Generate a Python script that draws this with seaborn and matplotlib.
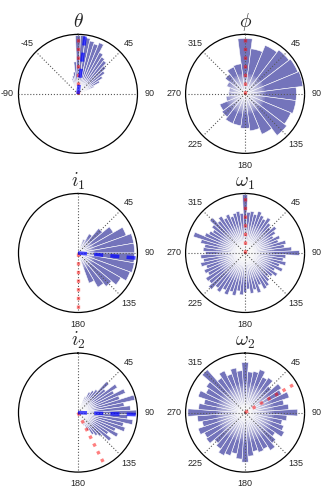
import numpy as np
import matplotlib
matplotlib.use("Agg")
import matplotlib.pyplot as plt
import seaborn as sns

sns.set_theme(style="white")
plt.rcParams['font.family'] = ['Liberation Sans', 'DejaVu Sans']
plt.rcParams['mathtext.fontset'] = 'cm'

# ---- data (angles in degrees, bar lengths relative) ----
theta_ang = [-20, -15, -10, -5, 0, 5, 10, 15, 20, 25, 30, 35, 40, 45, 50, 55, 60, 65]
theta_val = [0.28, 0.32, 0.38, 0.55, 1.0, 1.0, 0.97, 0.93, 0.9, 0.95, 0.8, 0.75,
             0.72, 0.65, 0.58, 0.5, 0.42, 0.3]

phi_ang = list(range(0, 360, 15))
phi_val = [0.95, 0.78, 0.9, 0.95, 0.98, 1.0, 0.88, 0.88, 0.85, 0.9, 0.75, 0.64,
           0.59, 0.55, 0.55, 0.5, 0.47, 0.33, 0.28, 0.28, 0.34, 0.43, 0.5, 0.52]

i1_ang = list(range(25, 160, 10))
i1_val = [0.25, 0.38, 0.55, 0.7, 0.88, 0.97, 0.97, 0.97, 0.98, 0.95, 0.85, 0.75,
          0.68, 0.55]

w1_ang = list(range(0, 360, 5))
w1_val = [1.0, 0.7, 0.72, 0.68, 0.75, 0.7, 0.66, 0.72, 0.65, 0.6, 0.68, 0.62,
          0.55, 0.65, 0.6, 0.72, 0.68, 0.8, 0.93, 0.7, 0.66, 0.72, 0.62, 0.7,
          0.58, 0.66, 0.6, 0.55, 0.62, 0.68, 0.7, 0.6, 0.72, 0.65, 0.7, 0.62,
          0.68, 0.72, 0.66, 0.75, 0.7, 0.78, 0.72, 0.8, 0.76, 0.85, 0.78, 0.8,
          0.72, 0.76, 0.7, 0.78, 0.72, 0.76, 0.68, 0.72, 0.7, 0.78, 0.93, 0.75,
          0.7, 0.66, 0.72, 0.82, 0.7, 0.75, 0.68, 0.72, 0.66, 0.7, 0.72, 0.68]

i2_ang = list(range(25, 160, 5))
i2_val = [0.3, 0.4, 0.45, 0.5, 0.72, 0.6, 0.8, 0.7, 0.88, 0.75, 1.0, 0.8, 0.9,
          1.0, 0.85, 0.95, 0.8, 0.85, 0.7, 0.78, 0.62, 0.72, 0.55, 0.5, 0.45,
          0.35, 0.25]

w2_ang = list(np.arange(0, 360, 7.5))
w2_val = [0.86, 0.7, 0.72, 0.78, 0.68, 0.72, 0.6, 0.75, 0.7, 0.8, 0.68, 0.75,
          0.9, 0.72, 0.65, 0.7, 0.75, 0.62, 0.7, 0.78, 0.7, 0.72, 0.68, 0.75,
          0.85, 0.8, 0.72, 0.78, 0.82, 0.75, 0.7, 0.8, 0.78, 0.85, 0.75, 0.82,
          0.98, 0.8, 0.72, 0.85, 0.75, 0.8, 0.98, 0.72, 0.8, 0.7, 0.78, 0.72]

# reference directions (red dotted = truth, blue dashed = estimate)
red_dir = {'theta': 0, 'phi': 0, 'i1': 180, 'w1': 0, 'i2': 153, 'w2': 60}
blue_dir = {'theta': 7, 'i1': 95, 'i2': 92}

full = [0, 45, 90, 135, 180, 225, 270, 315]
full_lab = ['', '45', '90', '135', '180', '225', '270', '315']
half = [0, 45, 90, 135, 180]
half_lab = ['', '45', '90', '135', '180']

panels = [
    ('theta', r'$\theta$', theta_ang, theta_val, 5, [270, 315, 0, 45, 90], ['-90', '-45', '', '45', '90'], 0.3),
    ('phi', r'$\phi$', phi_ang, phi_val, 15, full, full_lab, 0.35),
    ('i1', r'$i_1$', i1_ang, i1_val, 10, half, half_lab, 0.3),
    ('w1', r'$\omega_1$', w1_ang, w1_val, 5, full, full_lab, 0.5),
    ('i2', r'$i_2$', i2_ang, i2_val, 5, half, half_lab, 0.35),
    ('w2', r'$\omega_2$', w2_ang, w2_val, 7.5, full, full_lab, 0.5),
]

bar_color = '#7474bb'
fig = plt.figure(figsize=(3.32, 4.98), dpi=100)
lefts = [0.0557, 0.559]
bottoms = [0.692, 0.3725, 0.052]
w, h = 0.3584, 0.239

for k, (key, title, ang, val, width, grids, labels, glow) in enumerate(panels):
    ax = fig.add_axes([lefts[k % 2], bottoms[k // 2], w, h], projection='polar')
    ax.set_theta_zero_location('N')
    ax.set_theta_direction(-1)
    rmax = 1.02
    th = np.deg2rad(np.mod(ang, 360))
    ax.bar(th, val, width=np.deg2rad(width), color=bar_color,
           edgecolor='white', linewidth=0.4, zorder=1)
    # white glow towards the centre
    n = 14
    for j in range(1, n + 1):
        ax.bar(np.pi, glow * j / n, width=2 * np.pi, color='white', alpha=0.12,
               linewidth=0, zorder=1.5)
    a = np.deg2rad(red_dir[key])
    ax.plot([a, a], [0, rmax], color='red', ls=(0, (1, 1.6)), lw=2.4,
            alpha=0.5, zorder=3)
    if key in blue_dir:
        b = np.deg2rad(blue_dir[key])
        ax.plot([b, b], [0, rmax], color='blue', ls=(0, (2.5, 2)), lw=2.6,
                alpha=0.7, zorder=3)
    ax.set_xlim(0, 2 * np.pi)
    ax.set_ylim(0, rmax)
    ax.set_yticks([])
    ax.set_thetagrids(grids, labels)
    ax.set_axisbelow(False)
    ax.xaxis.grid(True, color='0.35', ls=':', lw=0.8)
    ax.tick_params(axis='x', labelsize=6.5, pad=-4.5)
    ax.spines['polar'].set_color('black')
    ax.spines['polar'].set_linewidth(0.9)
    ax.set_title(title, fontsize=14, pad=5)

fig.savefig('out.png', dpi=100)
